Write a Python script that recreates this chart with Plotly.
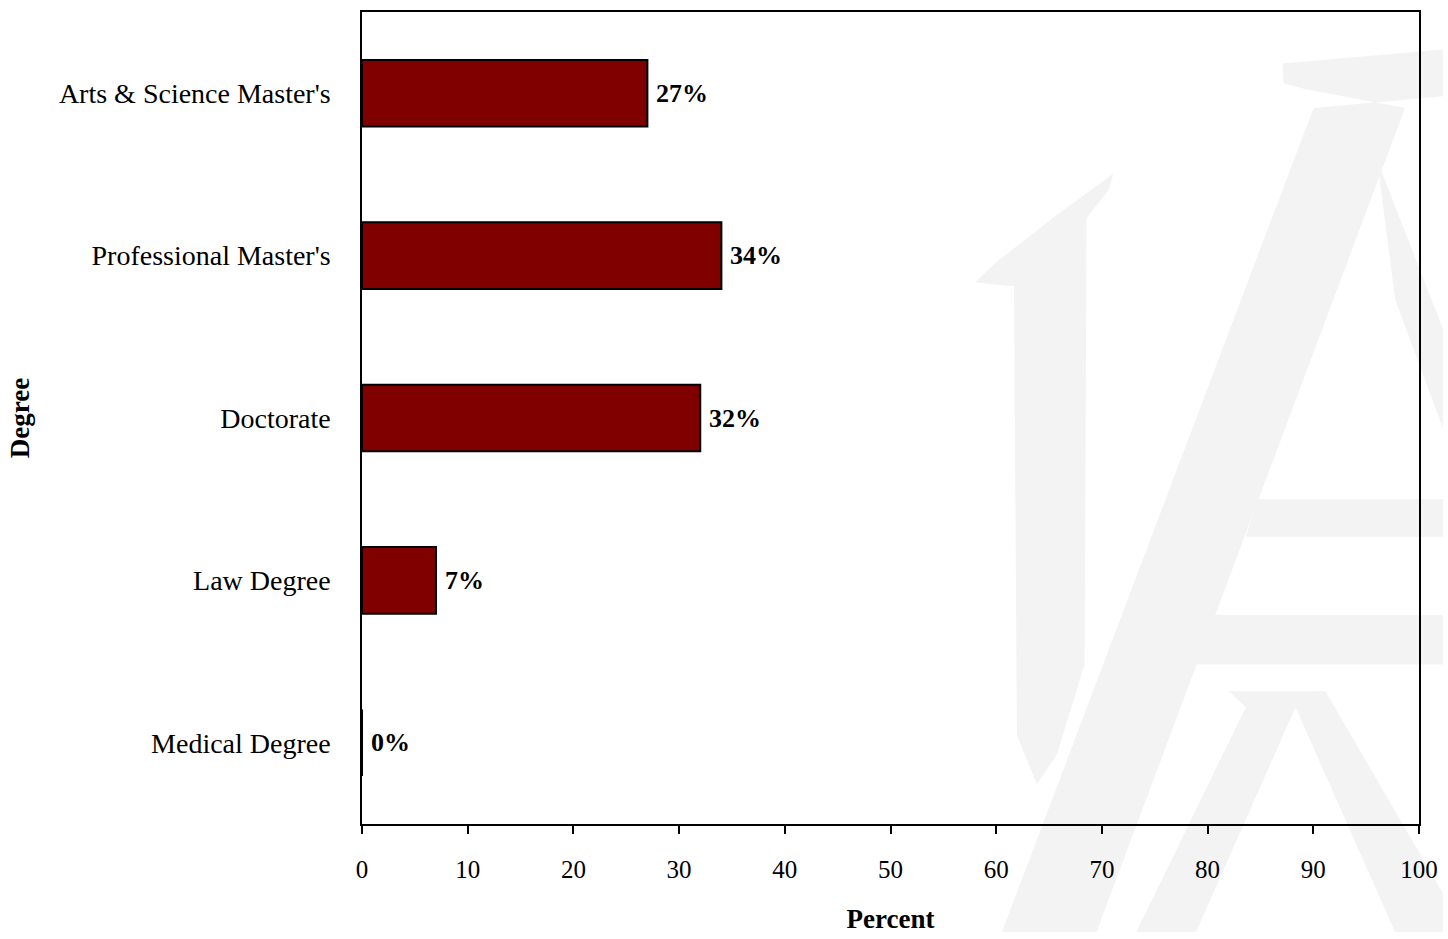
import plotly.graph_objects as go

# Degree shares (percent)
degrees = ["Arts & Science Master's", "Professional Master's", "Doctorate",
           "Law Degree", "Medical Degree"]
percent = [27, 34, 32, 7, 0]
bar_labels = ["27%", "34%", "32%", "7%", "0%"]
x_ticks = [0, 10, 20, 30, 40, 50, 60, 70, 80, 90, 100]

W, H = 1448, 939
L, R, T, B = 362, 24, 10, 109

# faint logo watermark behind the chart, in pixel coords
watermark = [
    [(978, 283), (1000, 262), (1060, 215), (1117, 173), (1112, 190), (1090, 218),
     (1088, 669), (1060, 760), (1040, 790), (1020, 740), (1017, 287), (995, 285)],
    [(1287, 62), (1448, 48), (1448, 95), (1318, 107), (1005, 939), (1100, 939),
     (1410, 107), (1310, 88), (1288, 82)],
    [(1382, 160), (1448, 330), (1448, 430), (1400, 300)],
    [(1193, 619), (1448, 619), (1448, 669), (1175, 669)],
    [(1262, 502), (1448, 502), (1448, 540), (1250, 540)],
    [(1233, 696), (1330, 696), (1300, 712), (1200, 939), (1140, 939), (1250, 712)],
    [(1300, 712), (1330, 696), (1448, 900), (1448, 939), (1400, 939)],
]


def to_paper(pts):
    pw, ph = W - L - R, H - T - B
    out = []
    for i, (px, py) in enumerate(pts):
        xp = (px - L) / pw
        yp = 1 - (py - T) / ph
        out.append(("M" if i == 0 else "L") + f"{xp:.4f},{yp:.4f}")
    return " ".join(out) + " Z"


fig = go.Figure()
fig.add_trace(go.Bar(
    y=degrees, x=percent, orientation="h",
    marker=dict(color="#800000", line=dict(color="black", width=2)),
    hoverinfo="x+y",
))

for d, v, t in zip(degrees, percent, bar_labels):
    fig.add_annotation(x=v, y=d, text=f"<b>{t}</b>", showarrow=False,
                       xanchor="left", xshift=7,
                       font=dict(family="Liberation Serif", size=26, color="black"))

shapes = [dict(type="path", path=to_paper(p), xref="paper", yref="paper",
               fillcolor="#f3f3f3", line=dict(width=0), layer="below")
          for p in watermark]

fig.update_layout(
    width=W, height=H,
    margin=dict(l=L, r=R, t=T, b=B),
    paper_bgcolor="white", plot_bgcolor="rgba(0,0,0,0)",
    font=dict(family="Liberation Serif", color="black"),
    bargap=0.59,
    showlegend=False,
    shapes=shapes,
    xaxis=dict(
        range=[0, 100], tickvals=x_ticks, ticks="outside", ticklen=8,
        tickcolor="black", tickwidth=1.5, showgrid=False, zeroline=False,
        showline=True, linecolor="black", linewidth=1.5, mirror=True,
        tickfont=dict(size=25), ticklabelstandoff=14,
        title=dict(text="<b>Percent</b>", font=dict(size=27), standoff=27),
    ),
    yaxis=dict(
        categoryorder="array", categoryarray=degrees[::-1],
        showgrid=False, zeroline=False, ticks="",
        showline=True, linecolor="black", linewidth=1.5, mirror=True,
        tickfont=dict(size=28), ticklabelstandoff=24,
        title=dict(text="<b>Degree</b>", font=dict(size=27), standoff=21),
    ),
)

# drop the default page margin / scrollbars so the figure sits at the window origin
fig.write_html(
    "out.html",
    config={"displayModeBar": False},
    post_script="document.documentElement.style.overflow='hidden';"
                "document.body.style.margin='0';document.body.style.overflow='hidden';",
)
